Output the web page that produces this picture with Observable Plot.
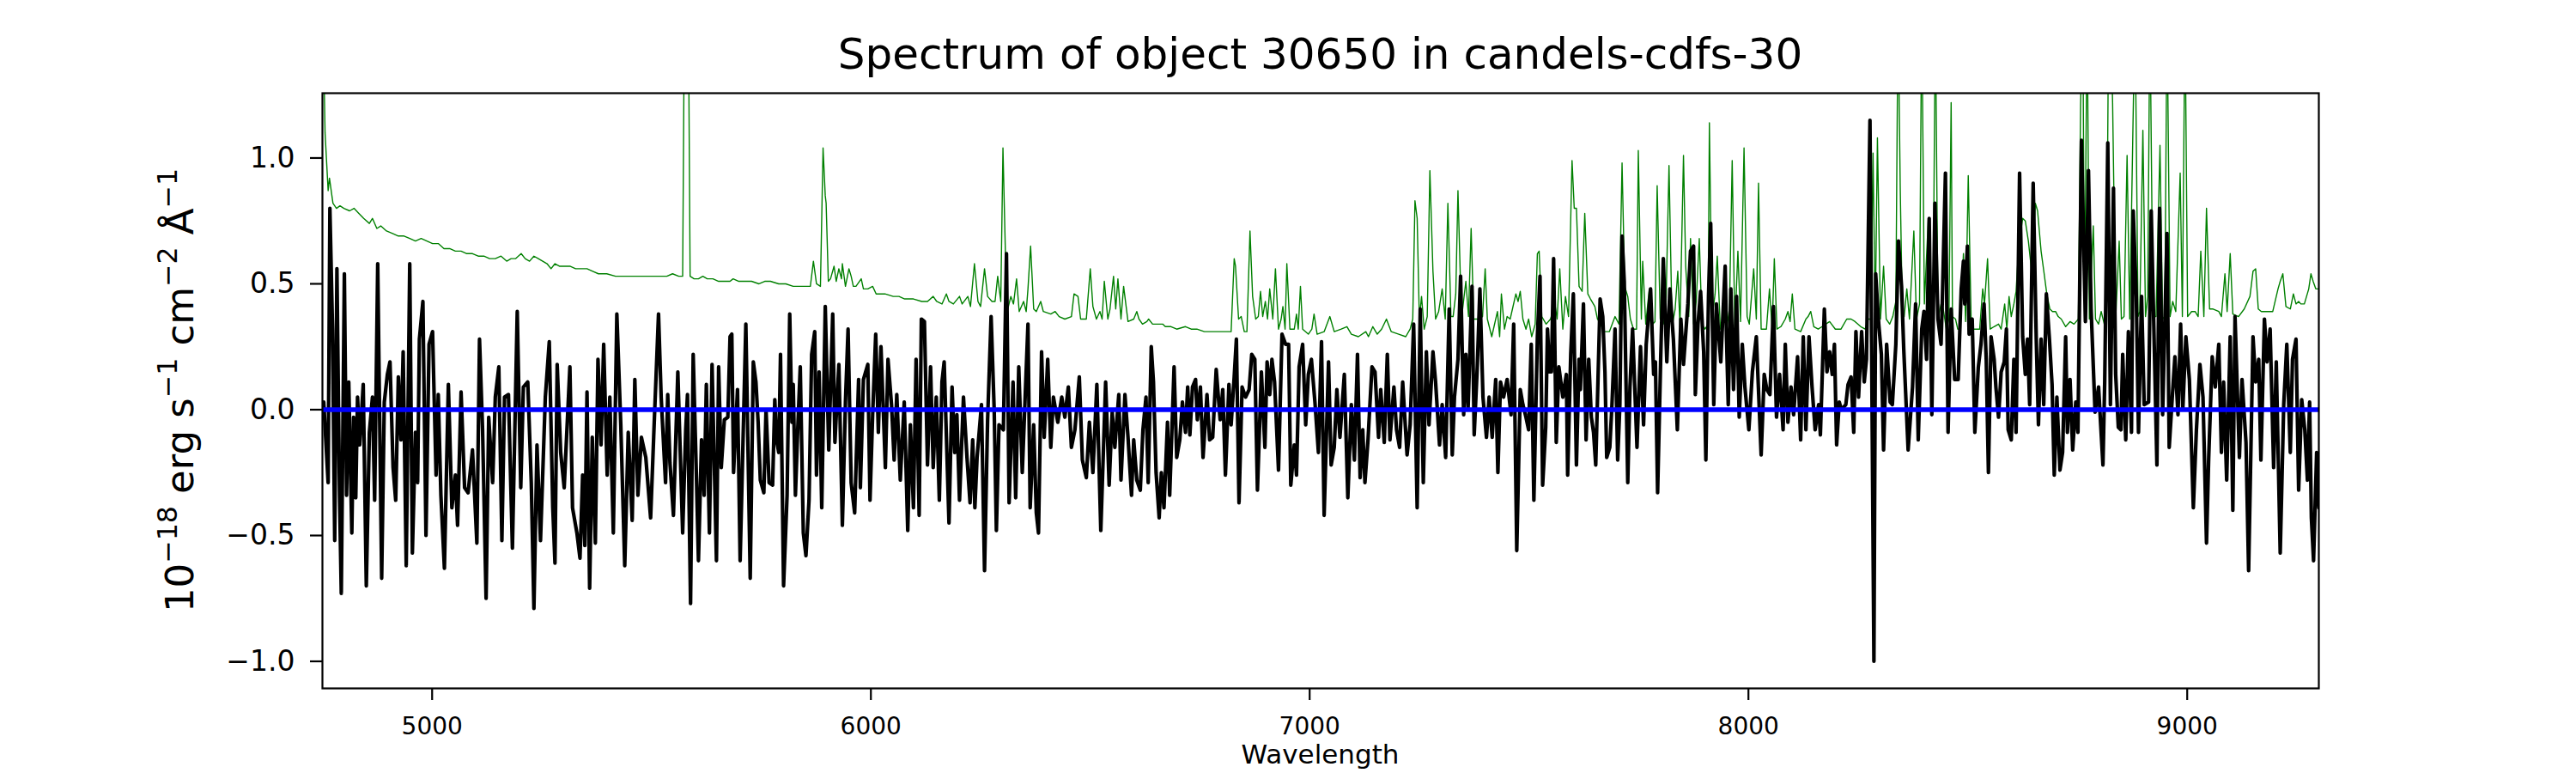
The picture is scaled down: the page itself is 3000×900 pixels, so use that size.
<!DOCTYPE html>
<html>
<head>
<meta charset="utf-8">
<script src="https://cdn.jsdelivr.net/npm/d3@7"></script>
<script src="https://cdn.jsdelivr.net/npm/@observablehq/plot@0.6"></script>
<style>
  html, body { margin: 0; padding: 0; background: #fff; overflow: hidden; }
  svg text { white-space: pre; }
</style>
</head>
<body>
<div id="chart"></div>
<script>
// ---- Data: [wavelength (Å), flux (1e-18 erg s-1 cm-2 Å-1)] ----
const title = "Spectrum of object 30650 in candels-cdfs-30";
const xLabel = "Wavelength";
const xTicks = [5000, 6000, 7000, 8000, 9000];
const yTicks = [-1.0, -0.5, 0.0, 0.5, 1.0];
const xDomain = [4750, 9300];
const yDomain = [-1.1075, 1.2575];

// Object spectrum (black)
const fluxA = [[4753,0.03],[4763,-0.29],[4767,0.80],[4773,0.32],[4778,-0.52],[4783,0.56],[4789,-0.34],[4793,-0.73],[4800,0.54],[4805,-0.34],[4810,0.11],[4817,-0.49],[4821,-0.03],[4826,-0.35],[4830,0.05],[4835,-0.14],[4843,0.10],[4850,-0.70],[4857,-0.09],[4864,0.05],[4869,-0.36],[4876,0.58],[4885,-0.67],[4891,0.03],[4898,0.14],[4904,0.19],[4911,-0.23],[4917,-0.36],[4923,0.13],[4929,-0.12],[4934,0.23],[4941,-0.62],[4949,0.58],[4955,-0.57],[4962,-0.09],[4967,-0.29],[4971,0.28],[4979,0.43],[4986,-0.50],[4993,0.26],[5001,0.31],[5009,-0.26],[5014,0.06],[5020,-0.34],[5028,-0.63],[5037,0.10],[5045,-0.39],[5053,-0.26],[5058,-0.46],[5066,0.07],[5074,-0.31],[5082,-0.33],[5092,-0.16],[5102,-0.53],[5108,0.28],[5115,-0.08],[5123,-0.75],[5129,-0.03],[5138,-0.29],[5144,0.05],[5152,0.17],[5159,-0.52],[5165,0.05],[5174,0.06],[5183,-0.55],[5194,0.39],[5202,-0.31],[5208,0.09],[5218,0.11],[5226,-0.29],[5232,-0.79],[5239,-0.14],[5247,-0.52],[5258,0.05],[5267,0.27],[5275,-0.39],[5280,-0.61],[5285,0.18],[5293,-0.17],[5301,-0.31],[5314,0.17],[5320,-0.39],[5330,-0.49],[5337,-0.59],[5343,-0.26],[5348,-0.54],[5353,0.07],[5359,-0.71],[5365,-0.11],[5372,-0.53],[5378,0.20],[5385,-0.14],[5391,0.26],[5399,-0.26],[5405,0.05],[5413,-0.49],[5421,0.38],[5430,-0.06],[5439,-0.62],[5447,-0.09],[5456,-0.44],[5462,0.12],[5469,-0.34],[5477,-0.11],[5487,-0.19],[5498,-0.43],[5506,-0.06],[5516,0.38],[5522,0.05],[5532,-0.29],[5537,0.06],[5542,-0.21],[5550,-0.42],[5560,0.15],[5571,-0.49],[5578,-0.08],[5582,0.06],[5589,-0.77],[5595,0.22],[5602,-0.24],[5607,-0.60],[5614,-0.12],[5620,-0.34],[5625,0.10],[5632,-0.49],[5638,0.18],[5648,-0.60],[5653,0.17],[5659,-0.23],[5666,-0.04],[5674,-0.03],[5679,0.29]];
const fluxB = [[5683,0.30],[5687,-0.25],[5696,0.08],[5702,-0.60],[5715,0.34],[5725,-0.67],[5732,0.19],[5738,0.11],[5743,-0.05],[5748,-0.28],[5756,-0.33],[5761,0.00],[5768,-0.29],[5776,-0.30],[5781,0.04],[5785,-0.12],[5790,-0.17],[5794,0.22],[5801,-0.70],[5809,-0.34],[5815,0.38],[5820,-0.05],[5823,0.10],[5828,-0.34],[5833,-0.09],[5839,0.17],[5846,-0.49],[5852,-0.58],[5859,-0.36],[5865,0.22],[5872,0.31],[5876,-0.26],[5882,0.15],[5888,-0.39],[5896,0.41],[5904,-0.16],[5913,0.38],[5918,-0.13],[5927,0.18],[5935,-0.46],[5942,0.03],[5948,0.32],[5955,-0.29],[5963,-0.41],[5972,0.12],[5976,-0.31],[5983,0.12],[5993,0.18],[5998,-0.36],[6004,-0.02],[6011,0.30],[6017,-0.09],[6023,0.25],[6033,-0.23],[6039,0.20],[6047,0.02],[6053,-0.20],[6059,0.06],[6067,-0.28],[6076,0.03],[6084,-0.48],[6090,-0.06],[6097,-0.39],[6103,0.20],[6110,-0.42],[6115,0.36],[6122,0.35],[6129,-0.22],[6136,0.17],[6142,-0.23],[6149,0.05],[6156,-0.36],[6162,0.11],[6167,0.19],[6178,-0.45],[6185,0.09],[6191,-0.17],[6196,-0.02],[6202,-0.36],[6211,0.05],[6219,-0.19],[6226,-0.37],[6232,-0.12],[6237,-0.39],[6242,-0.19],[6252,0.02],[6259,-0.64],[6266,-0.04],[6274,0.37],[6281,0.00],[6286,-0.48],[6292,-0.06],[6302,-0.08],[6309,0.62],[6315,-0.37],[6324,0.11],[6330,-0.35],[6337,0.17],[6345,-0.25],[6358,0.34],[6363,-0.39],[6371,-0.06],[6377,-0.41],[6382,-0.49],[6389,0.23],[6395,-0.11],[6403,0.20],[6410,-0.15],[6416,0.05],[6426,-0.05],[6435,0.05],[6442,-0.03],[6450,0.09],[6457,-0.15],[6465,-0.08],[6475,0.13],[6482,-0.20],[6491,-0.27],[6498,-0.05],[6506,-0.25],[6515,0.10],[6524,-0.48],[6535,0.11],[6543,-0.30],[6550,-0.01],[6556,-0.15],[6565,0.06],[6570,-0.28],[6579,0.06],[6586,-0.11],[6594,-0.34],[6599,-0.12]];
const fluxC = [[6606,-0.28],[6614,-0.32],[6620,-0.08],[6627,0.05],[6632,-0.29],[6639,0.25],[6644,0.11],[6650,-0.25],[6657,-0.43],[6662,-0.25],[6668,-0.39],[6676,-0.05],[6681,-0.34],[6691,0.17],[6697,-0.19],[6704,-0.12],[6710,0.03],[6717,-0.09],[6722,0.09],[6727,-0.10],[6733,0.09],[6740,0.12],[6744,-0.04],[6751,0.09],[6757,-0.19],[6766,0.06],[6772,-0.12],[6779,-0.11],[6787,0.16],[6796,-0.04],[6802,0.08],[6808,-0.26],[6816,0.10],[6821,-0.06],[6828,0.13],[6833,0.28],[6839,-0.37],[6846,0.09],[6854,0.05],[6862,0.08],[6868,0.22],[6875,0.20],[6881,-0.32],[6890,0.15],[6898,-0.15],[6903,0.19],[6909,0.06],[6914,0.20],[6920,0.11],[6929,-0.24],[6937,0.30],[6945,0.26],[6952,0.26],[6957,-0.30],[6965,-0.14],[6970,-0.26],[6976,0.17],[6984,0.26],[6991,-0.06],[6997,0.14],[7004,0.20],[7012,0.03],[7020,-0.17],[7027,0.27],[7033,-0.42],[7043,0.19],[7049,-0.22],[7056,-0.15],[7062,0.08],[7069,-0.11],[7079,0.14],[7087,-0.35],[7095,0.02],[7102,-0.20],[7109,0.22],[7115,-0.27],[7121,-0.08],[7126,-0.29],[7133,-0.12],[7142,0.17],[7149,0.15],[7157,-0.11],[7162,0.08],[7170,-0.13],[7177,0.22],[7183,-0.12],[7192,0.09],[7198,-0.08],[7205,-0.15],[7212,0.11],[7222,-0.18],[7229,-0.06],[7237,0.34],[7245,-0.39],[7252,0.40],[7259,-0.29],[7266,0.23],[7272,-0.06],[7281,0.23],[7287,0.11],[7296,-0.14],[7302,0.02],[7310,-0.19],[7318,0.40],[7325,-0.18],[7330,0.05],[7338,0.20],[7344,0.53],[7351,-0.02],[7356,0.22],[7361,0.00],[7370,0.49],[7375,-0.10],[7382,0.17],[7388,0.48],[7395,0.05],[7403,-0.11],[7409,0.05],[7416,-0.11],[7424,0.12],[7429,-0.25],[7435,0.11],[7442,0.05],[7450,0.12],[7459,-0.02],[7465,0.34],[7472,-0.56],[7480,0.08],[7486,0.02],[7493,-0.03],[7499,-0.08],[7505,0.26],[7511,-0.36],[7519,0.29]];
const fluxD = [[7525,0.53],[7531,-0.30],[7538,-0.07],[7542,0.32],[7547,0.15],[7551,0.15],[7556,0.60],[7562,-0.13],[7568,0.17],[7577,0.05],[7585,0.14],[7588,-0.26],[7595,0.22],[7601,0.46],[7608,-0.22],[7614,0.20],[7617,0.08],[7624,0.42],[7630,-0.12],[7636,0.20],[7642,-0.03],[7647,-0.09],[7652,-0.22],[7662,0.44],[7668,0.37],[7673,0.15],[7677,-0.19],[7684,-0.15],[7689,0.02],[7696,0.32],[7702,-0.20],[7707,0.02],[7712,0.69],[7717,0.51],[7725,-0.29],[7730,0.09],[7736,0.32],[7746,-0.15],[7754,0.25],[7761,-0.06],[7767,0.26],[7777,0.48],[7784,0.14],[7788,0.19],[7793,-0.33],[7800,0.20],[7806,0.60],[7814,0.19],[7821,0.48],[7829,0.28],[7838,-0.08],[7846,0.36],[7852,0.18],[7862,0.42],[7868,0.63],[7875,0.65],[7879,0.06],[7885,0.34],[7891,0.47],[7898,0.23],[7903,-0.20],[7909,0.45],[7914,0.74],[7921,0.02],[7927,0.42],[7937,0.19],[7947,0.57],[7950,0.29],[7954,0.02],[7960,0.48],[7966,0.08],[7973,0.45],[7979,-0.03],[7986,0.26],[7992,0.09],[8001,-0.08],[8009,0.15],[8018,0.29],[8029,-0.18],[8036,0.14],[8042,0.08],[8049,0.06],[8057,0.41],[8064,-0.03],[8071,0.14],[8079,-0.08],[8084,0.26],[8090,-0.05],[8097,0.09],[8103,-0.02],[8112,0.21],[8119,-0.12],[8125,0.29],[8131,-0.08],[8138,0.29],[8145,0.09],[8152,-0.08],[8160,0.02],[8164,-0.10],[8173,0.40],[8179,0.15],[8185,0.23],[8191,0.14],[8196,0.26],[8201,-0.14],[8207,0.03],[8212,0.00],[8222,0.02],[8227,0.10],[8234,0.13],[8240,-0.09],[8245,0.31],[8251,0.05],[8258,0.31],[8264,0.11],[8269,0.20],[8277,1.15],[8286,-1.00],[8290,0.54],[8297,0.34],[8303,0.22],[8308,-0.16],[8315,0.26],[8323,0.03],[8328,0.02],[8336,0.26],[8342,0.67],[8349,0.49],[8354,0.24],[8364,-0.16],[8374,0.09],[8381,0.42],[8387,-0.12],[8395,0.32],[8400,0.39],[8406,0.20],[8412,0.76],[8418,-0.02],[8425,0.82],[8432,0.36],[8439,0.26]];
const fluxE = [[8442,0.44],[8449,0.94],[8455,-0.09],[8462,0.40],[8470,0.12],[8478,0.12],[8485,0.48],[8490,0.59],[8493,0.42],[8499,0.65],[8503,0.30],[8510,0.36],[8516,-0.09],[8524,0.17],[8530,0.26],[8537,0.42],[8542,0.20],[8547,-0.25],[8553,0.29],[8560,0.20],[8564,0.09],[8570,-0.03],[8576,0.15],[8583,0.19],[8588,0.32],[8592,-0.08],[8599,-0.12],[8605,0.20],[8610,-0.09],[8618,0.94],[8625,0.29],[8631,0.14],[8636,0.28],[8641,0.02],[8649,0.90],[8656,0.28],[8661,-0.06],[8667,0.28],[8673,0.02],[8679,0.46],[8686,0.28],[8692,0.10],[8697,-0.26],[8703,0.05],[8710,-0.24],[8716,-0.17],[8723,0.29],[8727,-0.09],[8733,0.12],[8739,-0.16],[8746,0.03],[8751,-0.09],[8759,1.07],[8768,0.35],[8775,0.95],[8781,0.40],[8790,-0.01],[8798,0.09],[8808,-0.22],[8812,0.11],[8819,1.06],[8825,0.02],[8832,0.88],[8837,0.14],[8843,-0.07],[8849,-0.08],[8853,0.22],[8860,-0.12],[8866,0.31],[8873,-0.09],[8877,0.79],[8884,0.45],[8889,-0.09],[8896,0.45],[8902,0.02],[8912,0.03],[8918,0.79],[8925,0.25],[8931,-0.22],[8937,0.80],[8944,-0.02],[8954,0.70],[8959,-0.15],[8966,0.05],[8972,0.21],[8979,-0.02],[8985,0.34],[8990,0.00],[8997,0.29],[9005,0.12],[9014,-0.39],[9021,-0.08],[9029,0.18],[9036,0.05],[9044,-0.53],[9049,-0.19],[9057,0.21],[9064,0.09],[9072,0.26],[9078,-0.17],[9083,0.11],[9090,-0.28],[9098,0.29],[9104,-0.40],[9109,0.37],[9119,-0.19],[9125,0.12],[9134,-0.13],[9140,-0.64],[9150,0.29],[9156,0.11],[9163,0.20],[9168,-0.20],[9176,0.36],[9182,0.19],[9189,0.32],[9197,-0.23],[9203,0.19],[9212,-0.57],[9220,0.02],[9227,0.26],[9235,-0.17],[9240,0.20],[9248,0.28],[9254,-0.32],[9261,0.04],[9268,-0.08],[9274,-0.28],[9279,0.03],[9283,-0.43],[9288,-0.60],[9295,-0.17],[9300,-0.39]];

// Noise / sky spectrum (green); values above the frame are clipped
const noiseA = [[4751,1.6],[4756,1.1],[4763,0.87],[4766,0.92],[4774,0.82],[4782,0.80],[4790,0.81],[4799,0.80],[4812,0.79],[4822,0.80],[4833,0.78],[4844,0.76],[4857,0.74],[4864,0.76],[4874,0.72],[4883,0.73],[4896,0.71],[4910,0.70],[4923,0.69],[4936,0.69],[4949,0.68],[4962,0.67],[4975,0.68],[4988,0.67],[5001,0.66],[5014,0.66],[5027,0.64],[5040,0.64],[5053,0.63],[5066,0.63],[5079,0.62],[5092,0.62],[5105,0.61],[5118,0.61],[5131,0.60],[5144,0.60],[5157,0.61],[5170,0.59],[5180,0.60],[5190,0.60],[5203,0.62],[5212,0.60],[5222,0.59],[5232,0.61],[5242,0.60],[5252,0.59],[5262,0.58],[5271,0.56],[5280,0.58],[5290,0.57],[5301,0.57],[5314,0.57],[5327,0.56],[5340,0.56],[5353,0.56],[5366,0.55],[5379,0.54],[5398,0.54],[5418,0.53],[5437,0.53],[5457,0.53],[5473,0.53],[5490,0.53],[5506,0.53],[5522,0.53],[5535,0.53],[5548,0.54],[5562,0.53],[5571,0.53],[5575,1.6],[5584,1.6],[5588,0.53],[5597,0.52],[5607,0.52],[5617,0.53],[5627,0.52],[5640,0.52],[5653,0.51],[5666,0.51],[5679,0.51]];
const noiseB = [[5686,0.52],[5699,0.51],[5712,0.51],[5728,0.51],[5745,0.50],[5758,0.51],[5771,0.51],[5790,0.50],[5806,0.50],[5823,0.49],[5840,0.49],[5856,0.49],[5862,0.49],[5869,0.59],[5876,0.50],[5885,0.49],[5891,1.04],[5896,0.85],[5898,0.82],[5903,0.51],[5908,0.52],[5916,0.57],[5921,0.51],[5927,0.56],[5933,0.52],[5935,0.58],[5942,0.49],[5950,0.56],[5955,0.53],[5960,0.49],[5966,0.49],[5978,0.52],[5983,0.48],[5993,0.48],[6004,0.49],[6012,0.46],[6032,0.46],[6051,0.45],[6064,0.45],[6077,0.44],[6097,0.44],[6116,0.43],[6129,0.43],[6142,0.45],[6150,0.43],[6162,0.42],[6172,0.46],[6178,0.43],[6188,0.42],[6202,0.45],[6208,0.42],[6221,0.45],[6227,0.41],[6236,0.58],[6244,0.43],[6250,0.41],[6259,0.56],[6266,0.45],[6276,0.43],[6283,0.43],[6289,0.53],[6296,0.43],[6301,1.04],[6307,0.59],[6312,0.40],[6319,0.45],[6325,0.42],[6332,0.52],[6338,0.39],[6348,0.43],[6354,0.39],[6358,0.48],[6364,0.65],[6371,0.40],[6377,0.39],[6387,0.43],[6393,0.39],[6410,0.38],[6420,0.39],[6429,0.37],[6442,0.36],[6457,0.37],[6463,0.46],[6472,0.45],[6478,0.36],[6491,0.36],[6500,0.56],[6506,0.41],[6514,0.36],[6522,0.39],[6527,0.36],[6532,0.51],[6540,0.36],[6545,0.40],[6553,0.53],[6558,0.40],[6563,0.52],[6570,0.36],[6576,0.49],[6586,0.35],[6599,0.36]];
const noiseC = [[6606,0.39],[6611,0.36],[6619,0.34],[6629,0.35],[6633,0.36],[6642,0.34],[6654,0.34],[6665,0.34],[6671,0.33],[6684,0.33],[6697,0.32],[6717,0.33],[6730,0.32],[6743,0.32],[6760,0.31],[6776,0.31],[6795,0.31],[6808,0.31],[6821,0.31],[6828,0.60],[6831,0.57],[6838,0.36],[6844,0.37],[6851,0.31],[6857,0.31],[6864,0.71],[6870,0.45],[6877,0.36],[6883,0.37],[6888,0.47],[6893,0.37],[6899,0.43],[6904,0.36],[6909,0.48],[6916,0.36],[6922,0.56],[6929,0.32],[6935,0.36],[6939,0.41],[6944,0.32],[6948,0.58],[6955,0.32],[6965,0.32],[6970,0.38],[6974,0.32],[6979,0.49],[6984,0.32],[6997,0.30],[7005,0.32],[7010,0.38],[7017,0.30],[7033,0.31],[7046,0.37],[7056,0.31],[7072,0.32],[7085,0.33],[7095,0.30],[7111,0.29],[7128,0.31],[7134,0.29],[7144,0.33],[7154,0.30],[7164,0.32],[7175,0.36],[7186,0.31],[7203,0.30],[7219,0.29],[7229,0.32],[7235,0.36],[7240,0.83],[7245,0.76],[7250,0.36],[7255,0.45],[7261,0.32],[7268,0.37],[7274,0.95],[7281,0.55],[7287,0.36],[7294,0.39],[7302,0.48],[7309,0.36],[7315,0.82],[7322,0.37],[7327,0.37],[7333,0.46],[7338,0.87],[7346,0.36],[7356,0.51],[7362,0.37],[7368,0.72],[7374,0.36],[7385,0.36],[7394,0.37],[7400,0.56],[7405,0.36],[7415,0.29],[7428,0.39],[7433,0.29],[7437,0.46],[7444,0.32],[7450,0.37],[7457,0.36],[7470,0.46],[7475,0.43],[7480,0.47],[7486,0.36],[7493,0.32],[7499,0.36],[7506,0.29],[7514,0.34],[7519,0.62]];
const noiseD = [[7523,0.63],[7529,0.37],[7539,0.34],[7549,0.36],[7559,0.42],[7564,0.36],[7570,0.56],[7577,0.32],[7583,0.45],[7590,0.37],[7598,0.99],[7603,0.80],[7608,0.80],[7614,0.49],[7621,0.47],[7627,0.78],[7634,0.46],[7640,0.44],[7650,0.41],[7656,0.36],[7663,0.34],[7671,0.31],[7683,0.31],[7696,0.37],[7705,0.34],[7712,0.98],[7718,0.49],[7725,0.45],[7731,0.36],[7738,0.32],[7745,0.32],[7749,1.03],[7756,0.36],[7759,0.59],[7766,0.34],[7774,0.48],[7782,0.34],[7787,0.35],[7792,0.89],[7799,0.36],[7806,0.34],[7812,0.41],[7819,0.97],[7826,0.33],[7833,0.40],[7839,0.55],[7844,0.33],[7852,1.01],[7857,0.57],[7864,0.37],[7868,0.68],[7875,0.34],[7881,0.43],[7888,0.68],[7894,0.34],[7901,0.32],[7908,0.34],[7911,1.14],[7917,0.36],[7924,0.46],[7929,0.61],[7936,0.32],[7943,0.34],[7950,0.41],[7956,0.33],[7963,0.99],[7969,0.32],[7976,0.63],[7982,0.35],[7990,1.04],[7997,0.37],[8002,0.34],[8012,0.56],[8018,0.36],[8023,0.90],[8029,0.32],[8041,0.32],[8048,0.48],[8054,0.32],[8059,0.60],[8065,0.32],[8074,0.33],[8084,0.36],[8090,0.39],[8095,0.35],[8100,0.46],[8106,0.32],[8119,0.31],[8131,0.36],[8136,0.37],[8142,0.39],[8149,0.33],[8159,0.32],[8168,0.33],[8185,0.35],[8198,0.32],[8211,0.32],[8224,0.36],[8234,0.36],[8243,0.35],[8256,0.33],[8266,0.32],[8273,0.36],[8279,0.36],[8284,1.02],[8289,0.36],[8294,1.08],[8301,0.36],[8308,0.57],[8314,0.36],[8322,0.34],[8329,0.37],[8336,0.43],[8341,1.6],[8346,0.88],[8351,0.36],[8355,0.37],[8361,0.48],[8367,0.36],[8377,0.71],[8383,0.36],[8390,0.42],[8395,1.6],[8401,0.42],[8410,0.76],[8416,0.36],[8421,0.42],[8426,1.6],[8432,0.36],[8439,0.42]];
const noiseE = [[8444,0.40],[8451,0.32],[8457,0.36],[8462,1.22],[8465,0.37],[8472,0.36],[8477,0.32],[8483,0.32],[8490,0.62],[8495,0.35],[8501,0.93],[8508,0.32],[8517,0.32],[8527,0.32],[8534,0.48],[8538,0.42],[8545,0.60],[8551,0.32],[8560,0.33],[8570,0.34],[8576,0.32],[8584,0.42],[8589,0.32],[8594,0.45],[8599,0.37],[8605,0.42],[8610,0.47],[8616,0.65],[8625,0.76],[8631,0.75],[8638,0.67],[8646,0.54],[8654,0.82],[8659,0.79],[8667,0.63],[8674,0.54],[8680,0.46],[8687,0.40],[8693,0.39],[8700,0.39],[8706,0.37],[8713,0.36],[8723,0.33],[8733,0.35],[8742,0.34],[8752,0.36],[8757,1.21],[8762,1.6],[8766,0.36],[8772,1.6],[8777,0.36],[8786,0.73],[8791,0.36],[8798,0.34],[8804,0.39],[8811,0.34],[8816,0.36],[8821,1.6],[8825,1.6],[8830,1.22],[8837,0.36],[8845,0.67],[8850,0.36],[8856,0.37],[8863,1.01],[8869,0.36],[8881,1.6],[8888,0.37],[8892,0.39],[8899,1.11],[8905,0.37],[8910,0.45],[8915,1.6],[8922,0.37],[8929,0.37],[8938,1.05],[8944,0.36],[8949,0.37],[8954,1.6],[8961,0.37],[8967,0.43],[8974,0.39],[8984,0.94],[8989,0.37],[8995,1.6],[9001,0.37],[9010,0.39],[9018,0.39],[9025,0.37],[9031,0.63],[9038,0.37],[9044,0.80],[9051,0.40],[9059,0.40],[9072,0.39],[9078,0.37],[9086,0.54],[9091,0.39],[9098,0.62],[9104,0.38],[9117,0.37],[9130,0.40],[9143,0.45],[9150,0.55],[9156,0.56],[9162,0.40],[9169,0.39],[9182,0.39],[9195,0.39],[9207,0.48],[9212,0.51],[9218,0.54],[9225,0.41],[9235,0.40],[9242,0.46],[9248,0.42],[9254,0.43],[9259,0.42],[9267,0.42],[9277,0.48],[9282,0.54],[9287,0.51],[9293,0.48],[9300,0.48]];

const zeroLevel = [0];

// ---- Build ----
const spectrum = [...fluxA, ...fluxB, ...fluxC, ...fluxD, ...fluxE].map(([w, f]) => ({w, f}));
const noise = [...noiseA, ...noiseB, ...noiseC, ...noiseD, ...noiseE].map(([w, f]) => ({w, f}));
const yFmt = d => d.toFixed(1).replace("-", "\u2212");

const chart = Plot.plot({
  width: 3000,
  height: 900,
  marginLeft: 375,
  marginRight: 300,
  marginTop: 108,
  marginBottom: 99,
  style: {fontFamily: "DejaVu Sans", fontSize: "28px", background: "white", color: "black"},
  x: {domain: xDomain},
  y: {domain: yDomain},
  marks: [
    Plot.axisX({ticks: xTicks, tickSize: 14, tickPadding: 20, tickFormat: d3.format("d"), label: null, strokeWidth: 2.2, fontSize: 28}),
    Plot.axisY({ticks: yTicks, tickSize: 14, tickPadding: 18, tickFormat: yFmt, label: null, strokeWidth: 2.2, fontSize: 33}),
    Plot.line(noise, {x: "w", y: "f", stroke: "#008000", strokeWidth: 1.4, clip: true}),
    Plot.line(spectrum, {x: "w", y: "f", stroke: "#000000", strokeWidth: 4.2, clip: true}),
    Plot.ruleY(zeroLevel, {stroke: "#0000ff", strokeWidth: 5.6}),
    Plot.frame({stroke: "black", strokeWidth: 2.2})
  ]
});

const svg = d3.select(chart);
svg.selectAll('g[aria-label="y-axis tick label"]').style("font-size", "33px");
svg.selectAll('g[aria-label="x-axis tick label"]').style("font-size", "28px");

// Title
svg.append("text")
  .attr("x", 1537.5).attr("y", 80)
  .attr("text-anchor", "middle")
  .attr("font-family", "DejaVu Sans").attr("font-size", 50).attr("fill", "black")
  .text(title);

// X label
svg.append("text")
  .attr("x", 1537.5).attr("y", 889)
  .attr("text-anchor", "middle")
  .attr("font-family", "DejaVu Sans").attr("font-size", 31).attr("fill", "black")
  .text(xLabel);

// Y label with superscripts
const yl = svg.append("text")
  .attr("transform", "translate(225,454.5) rotate(-90)")
  .attr("text-anchor", "middle")
  .attr("font-family", "DejaVu Sans").attr("font-size", 45).attr("fill", "black");
const parts = [["10", 0], ["\u221218", 1], [" erg s", 0], ["\u22121", 1], [" cm", 0], ["\u22122", 1], [" \u00C5", 0], ["\u22121", 1]];
let raised = false;
for (const [t, sup] of parts) {
  const ts = yl.append("tspan").text(t);
  if (sup && !raised) { ts.attr("dy", -19).attr("font-size", 31.5); raised = true; }
  else if (sup) { ts.attr("font-size", 31.5); }
  else if (!sup && raised) { ts.attr("dy", 19); raised = false; }
}

document.getElementById("chart").appendChild(chart);
</script>
</body>
</html>
